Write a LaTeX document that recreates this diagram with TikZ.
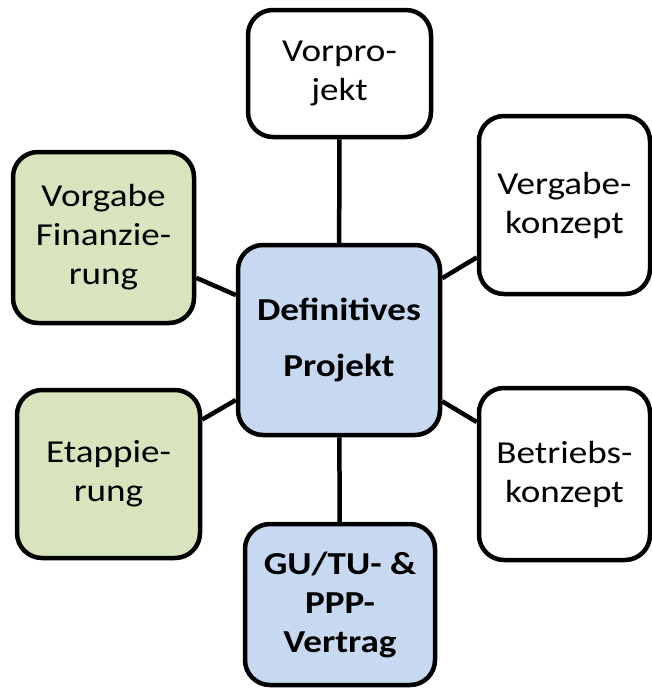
\documentclass[tikz,border=0pt]{standalone}
\usepackage{fontspec}
\setmainfont{Carlito}[FakeStretch=1.16]
\usepackage{tikz}
\usetikzlibrary{positioning,calc}

\definecolor{boxblue}{HTML}{C6D9F1}
\definecolor{boxgreen}{HTML}{D7E4BD}

\begin{document}
\begin{tikzpicture}[x=1pt, y=-1pt,
    box/.style={draw=black, line width=4.5pt, rounded corners=25pt, fill=white,
      inner sep=0pt, align=center, font=\fontsize{32}{39}\selectfont},
    bluebox/.style={box, fill=boxblue, font=\fontsize{32}{39}\selectfont\bfseries},
    greenbox/.style={box, fill=boxgreen},
    link/.style={line width=4.5pt}]
  \useasboundingbox (0,0) rectangle (652,688);

  % Kernknoten
  \node[bluebox, minimum width=202pt, minimum height=190pt,
        font=\fontsize{32}{56}\selectfont\bfseries] (def) at (339,340) {Definitives\\Projekt};

  % umliegende Knoten
  \node[box, minimum width=183pt, minimum height=127pt] (vor) at (339.5,73.5) {Vorpro-\\jekt};
  \node[box, minimum width=171pt, minimum height=178pt] (verg) at (564.5,205) {Vergabe-\\konzept};
  \node[greenbox, minimum width=181pt, minimum height=171pt] (fin) at (103.5,237.5) {Vorgabe\\Finanzie-\\rung};
  \node[greenbox, minimum width=183pt, minimum height=168pt] (etap) at (108.5,474) {Etappie-\\rung};
  \node[box, minimum width=171pt, minimum height=172pt] (betr) at (564.5,474) {Betriebs-\\konzept};
  \node[bluebox, minimum width=190pt, minimum height=161pt] (vert) at (340,604.5) {GU/TU- \&\\PPP-\\Vertrag};

  % Verbindungen
  \foreach \n in {vor,verg,fin,etap,betr,vert} {
    \draw[link] (def) -- (\n);
  }
\end{tikzpicture}
\end{document}
